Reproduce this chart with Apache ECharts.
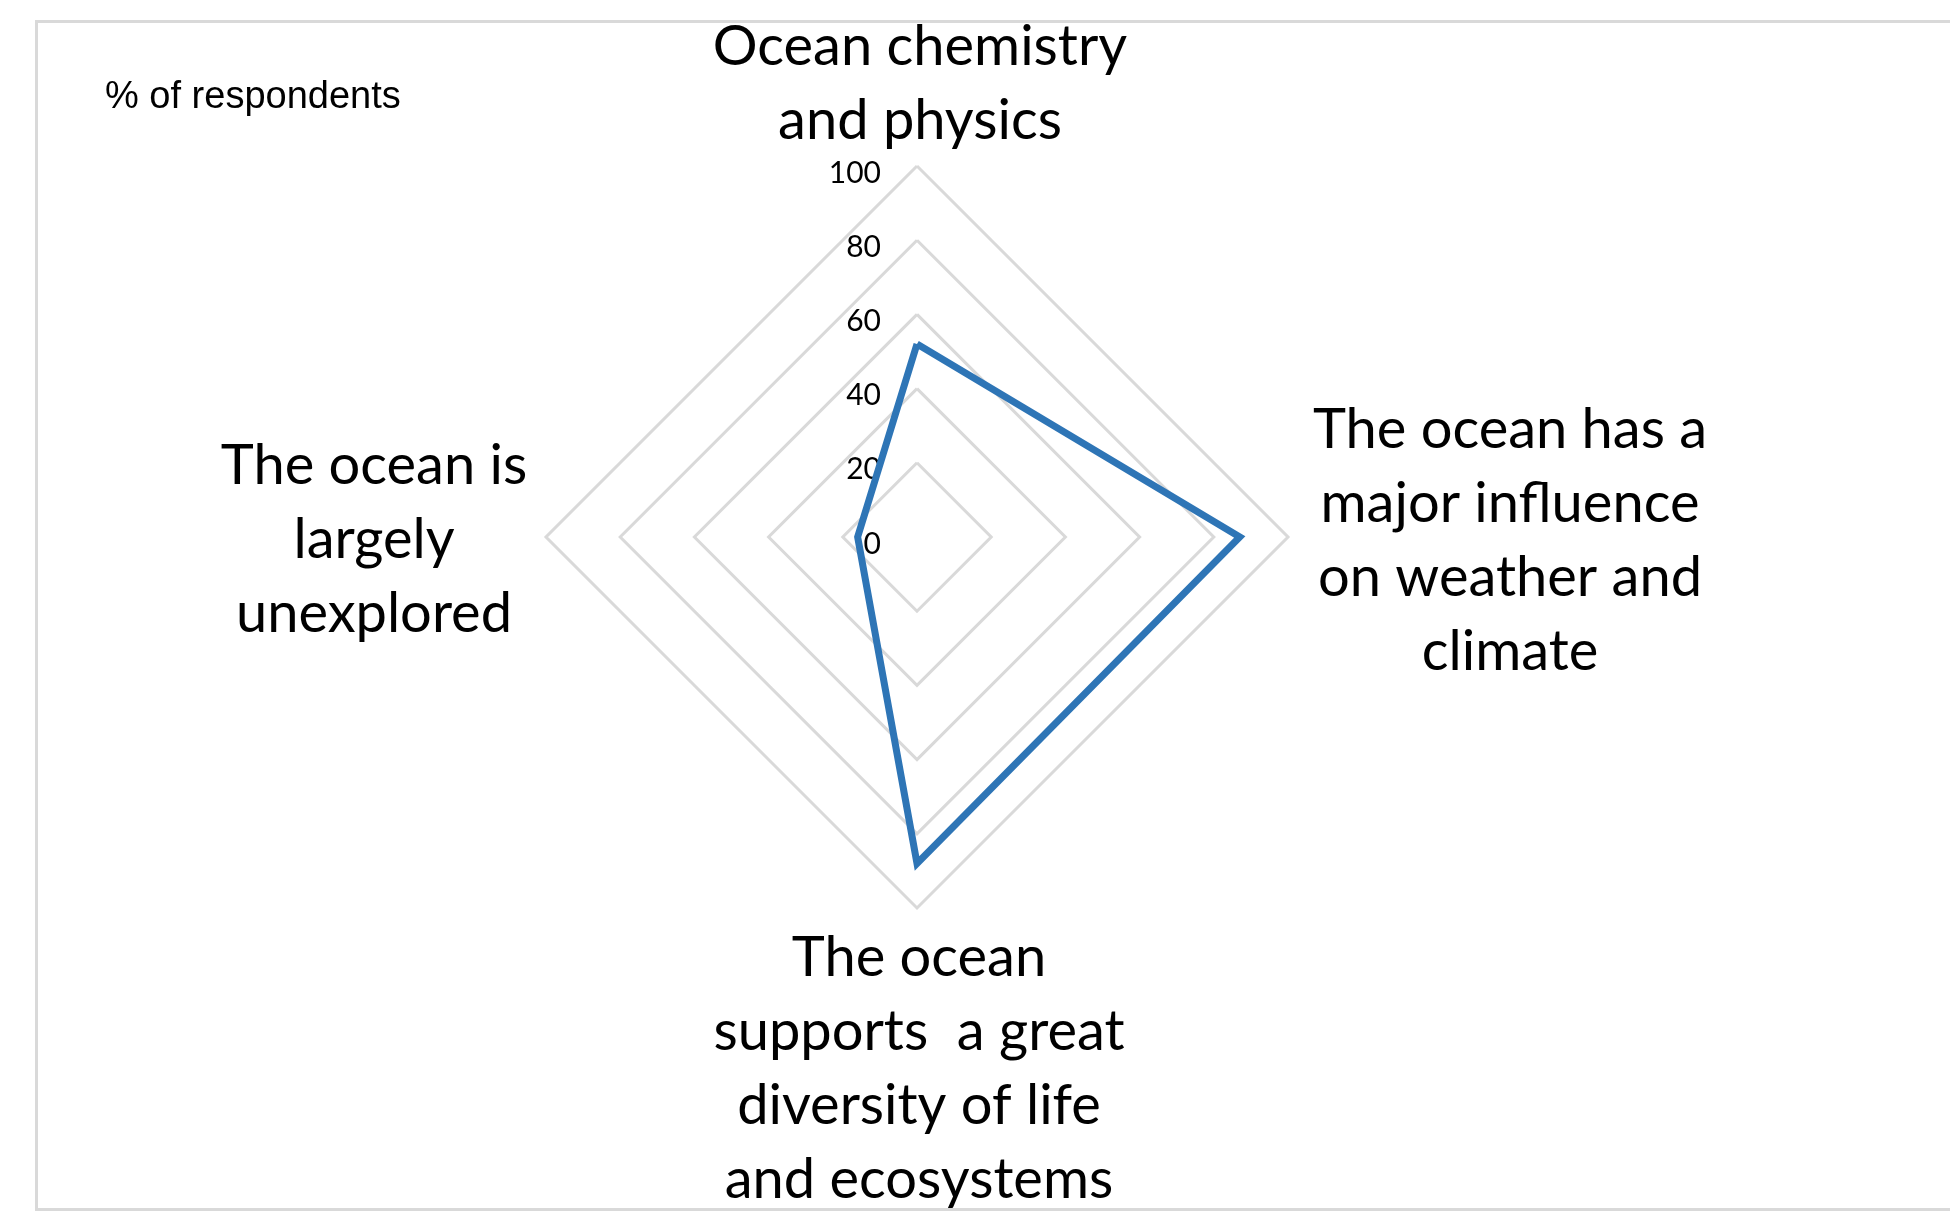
<!DOCTYPE html>
<html>
<head>
<meta charset="utf-8">
<title>Perceptions of the ocean</title>
<script src="https://cdn.jsdelivr.net/npm/echarts@6/dist/echarts.min.js"></script>
<style>
  html, body { margin: 0; padding: 0; background: #ffffff; }
  #chart { width: 1950px; height: 1211px; }
</style>
</head>
<body>
<div id="chart"></div>
<script>
// Statements, listed clockwise starting from the top spoke
const categories = [
  'Ocean chemistry\nand physics',
  'The ocean has a\nmajor influence\non weather and\nclimate',
  'The ocean\nsupports  a great\ndiversity of life\nand ecosystems',
  'The ocean is\nlargely\nunexplored'
];
// Share of respondents agreeing with each statement (%)
const shares = [52, 87, 88, 16];
// Radial scale
const scaleMin = 0;
const scaleMax = 100;
const scaleStep = 20;
const unitLabel = '% of respondents';

// Layout
const cx = 917, cy = 537, R = 371;
const nameFont = '56px Lato';
const nameLineHeight = 74;
// anchor of each statement's text block (centre), same order as categories
const nameAnchors = [
  [920, 84],
  [1510, 541],
  [919, 1069],
  [374, 540]
];

// ECharts lays radar spokes out counter-clockwise; map the clockwise list onto it
const order = [0, 3, 2, 1];
const indicator = order.map(function (i, k) {
  const ind = { name: categories[i], min: scaleMin, max: scaleMax };
  if (k === 0) {
    ind.axisLabel = {
      show: true,
      color: '#000000',
      fontFamily: 'Lato',
      fontSize: 30,
      margin: 36,
      verticalAlign: 'top',
      lineHeight: 14,
      showMinLabel: true,
      showMaxLabel: true
    };
  }
  return ind;
});
const seriesValues = order.map(function (i) { return shares[i]; });

const chart = echarts.init(document.getElementById('chart'), null, { renderer: 'canvas' });

const graphics = [
  {
    type: 'rect',
    shape: { x: 36.5, y: 21.5, width: 2000, height: 1188 },
    style: { fill: 'none', stroke: '#d9d9d9', lineWidth: 3 },
    silent: true
  },
  {
    type: 'text',
    left: 105,
    top: 79,
    style: {
      text: unitLabel,
      font: '38px "Liberation Sans", Arial, sans-serif',
      fill: '#000000'
    }
  }
];
categories.forEach(function (name, i) {
  graphics.push({
    type: 'text',
    x: nameAnchors[i][0],
    y: nameAnchors[i][1],
    style: {
      text: name,
      font: nameFont,
      lineHeight: nameLineHeight,
      fill: '#000000',
      align: 'center',
      verticalAlign: 'middle'
    }
  });
});

chart.setOption({
  backgroundColor: '#ffffff',
  animation: false,
  radar: {
    center: [cx, cy],
    radius: R,
    startAngle: 90,
    shape: 'polygon',
    splitNumber: (scaleMax - scaleMin) / scaleStep,
    indicator: indicator,
    axisName: { show: false },
    axisLine: { show: false },
    axisTick: { show: false },
    axisLabel: { show: false },
    splitArea: { show: false },
    splitLine: { lineStyle: { color: '#d9d9d9', width: 3 } }
  },
  graphic: graphics,
  series: [{
    type: 'radar',
    symbol: 'none',
    lineStyle: { color: '#2e75b6', width: 7, join: 'miter' },
    itemStyle: { color: '#2e75b6' },
    data: [{ value: seriesValues, name: unitLabel }]
  }]
});
</script>
</body>
</html>
